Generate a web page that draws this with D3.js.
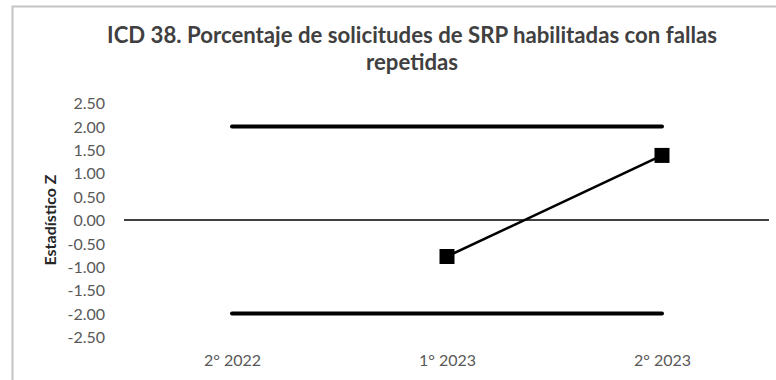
<!DOCTYPE html>
<html>
<head>
<meta charset="utf-8">
<script src="https://cdn.jsdelivr.net/npm/d3@7"></script>
<style>
  html, body { margin: 0; padding: 0; background: #fff; }
  svg { display: block; font-family: "Lato", "Liberation Sans", sans-serif; }
</style>
</head>
<body>
<svg id="chart" width="776" height="380"></svg>
<script>
// Periods and Z statistic of the indicator
const periods = ["2° 2022", "1° 2023", "2° 2023"];
const zValues = [null, -0.78, 1.38];
// Control limits drawn across all periods
const upperLimit = [2, 2, 2];
const lowerLimit = [-2, -2, -2];
const yTicks = [2.5, 2.0, 1.5, 1.0, 0.5, 0.0, -0.5, -1.0, -1.5, -2.0, -2.5];

const titleLines = ["ICD 38. Porcentaje de solicitudes de SRP habilitadas con fallas", "repetidas"];
const yLabel = "Estadístico Z";

const svg = d3.select("#chart");

// Chart frame (extends past the right and bottom edges)
svg.append("rect")
  .attr("x", 12.5).attr("y", 6.5)
  .attr("width", 800).attr("height", 400)
  .attr("fill", "none").attr("stroke", "#c4c4c4").attr("stroke-width", 2);

const x = d3.scalePoint().domain(periods).range([232, 662]);
const y = d3.scaleLinear().domain([-2.5, 2.5]).range([337, 103]);

// Title
const title = svg.append("text")
  .attr("text-anchor", "middle")
  .attr("fill", "#404040")
  .attr("font-weight", "bold")
  .attr("font-size", 22.2);
titleLines.forEach((t, i) => {
  title.append("tspan").attr("x", 412).attr("y", 43 + i * 27).text(t);
});

// Y axis ticks (labels only), plain hyphen for negatives
const fmt = d => d3.format(".2f")(d).replace("\u2212", "-");
const yAxis = d3.axisLeft(y).tickValues(yTicks).tickFormat(fmt).tickSize(0).tickPadding(0);
const yg = svg.append("g").attr("transform", "translate(105,0)").call(yAxis);
yg.select(".domain").remove();
yg.selectAll("text")
  .attr("fill", "#595959")
  .attr("font-size", 16)
  .attr("font-family", "Lato, sans-serif")
  .attr("dy", "0.36em");

// Y axis title
svg.append("text")
  .attr("transform", `translate(56,${y(0)}) rotate(-90)`)
  .attr("text-anchor", "middle")
  .attr("fill", "#262626")
  .attr("font-weight", "bold")
  .attr("font-size", 16)
  .text(yLabel);

// X axis category labels
const xAxis = d3.axisBottom(x).tickSize(0).tickPadding(0);
const xg = svg.append("g").attr("transform", "translate(0,366)").call(xAxis);
xg.select(".domain").remove();
xg.selectAll("text")
  .attr("fill", "#595959")
  .attr("font-size", 16)
  .attr("font-family", "Lato, sans-serif")
  .attr("y", 0)
  .attr("dy", 0);

// Zero line
svg.append("line")
  .attr("x1", 124).attr("x2", 769)
  .attr("y1", y(0)).attr("y2", y(0))
  .attr("stroke", "#404040").attr("stroke-width", 2);

// Control limits
const limitLine = d3.line().x((d, i) => x(periods[i])).y(d => y(d));
[upperLimit, lowerLimit].forEach(lim => {
  svg.append("path")
    .attr("d", limitLine(lim))
    .attr("fill", "none").attr("stroke", "#000")
    .attr("stroke-width", 4).attr("stroke-linecap", "round");
});

// Z statistic series
const pts = periods.map((p, i) => ({ p, v: zValues[i] })).filter(d => d.v !== null);
svg.append("path")
  .attr("d", d3.line().x(d => x(d.p)).y(d => y(d.v))(pts))
  .attr("fill", "none").attr("stroke", "#000").attr("stroke-width", 2.5);

const s = 15;
svg.selectAll("rect.marker").data(pts).join("rect")
  .attr("class", "marker")
  .attr("x", d => x(d.p) - s / 2).attr("y", d => y(d.v) - s / 2)
  .attr("width", s).attr("height", s)
  .attr("fill", "#000");
</script>
</body>
</html>
